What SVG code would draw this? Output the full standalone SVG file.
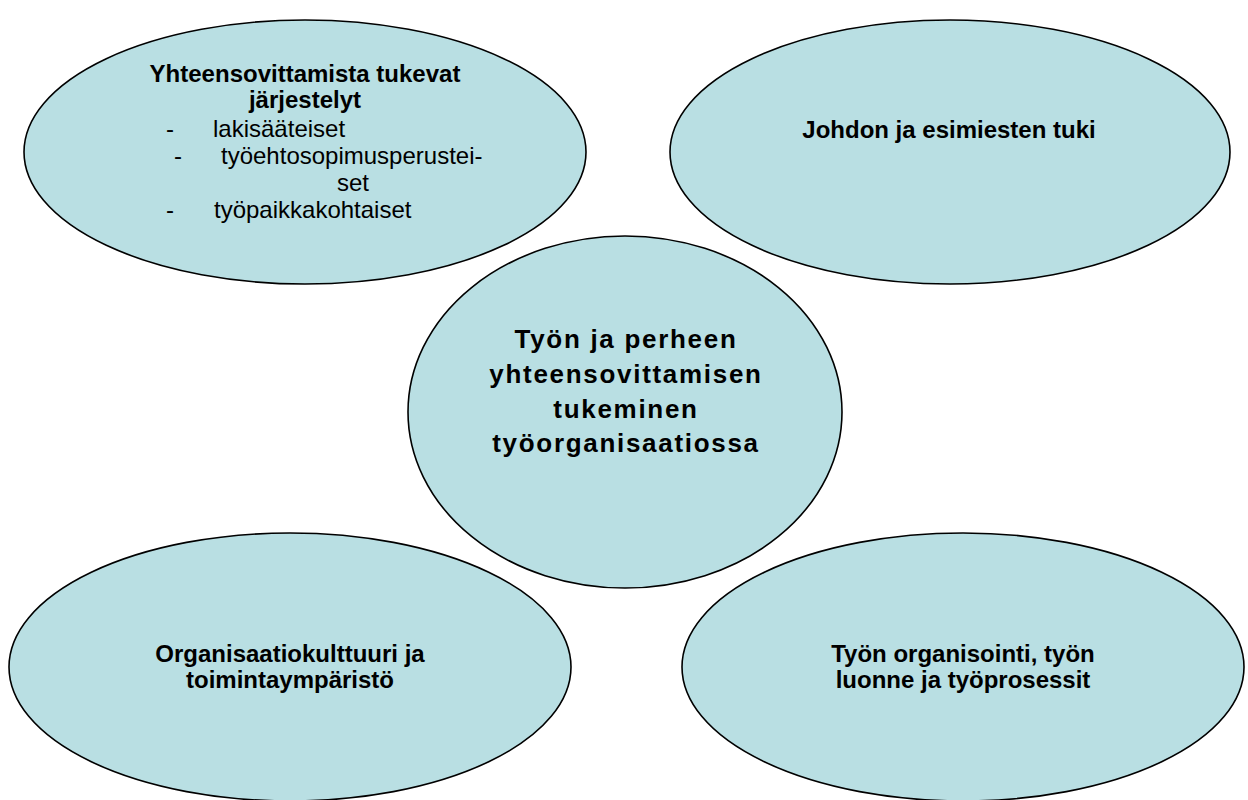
<svg xmlns="http://www.w3.org/2000/svg" width="1248" height="800" viewBox="0 0 1248 800">
<style>
.node{fill:#b9dfe3;stroke:#000;stroke-width:1.6}
.t{font-family:"Liberation Sans",Arial,sans-serif;font-size:24px;fill:#000}
.b{font-weight:bold}
.c{text-anchor:middle}
.ctr{font-family:"Liberation Sans",Arial,sans-serif;font-size:26px;font-weight:bold;letter-spacing:1.7px;text-anchor:middle;fill:#000}
</style>
<rect width="1248" height="800" fill="#fff"/>
<g id="connectors"></g>
<g id="node-jarjestelyt">
<ellipse class="node" cx="305" cy="152" rx="281" ry="132"/>
<text class="t b c" x="305" y="82">Yhteensovittamista tukevat</text>
<text class="t b c" x="305" y="108">järjestelyt</text>
<text class="t" x="166" y="137">-</text>
<text class="t" x="213" y="137">lakisääteiset</text>
<text class="t" x="174" y="164">-</text>
<text class="t" x="221" y="164">työehtosopimusperustei-</text>
<text class="t" x="337" y="191">set</text>
<text class="t" x="166" y="218">-</text>
<text class="t" x="214" y="218">työpaikkakohtaiset</text>
</g>
<g id="node-johto">
<ellipse class="node" cx="950" cy="152" rx="280" ry="132"/>
<text class="t b c" x="949" y="138">Johdon ja esimiesten tuki</text>
</g>
<g id="node-center">
<ellipse class="node" cx="625" cy="412" rx="217" ry="176"/>
<text class="ctr" x="626" y="348">Työn ja perheen</text>
<text class="ctr" x="626" y="383">yhteensovittamisen</text>
<text class="ctr" x="626" y="418">tukeminen</text>
<text class="ctr" x="626" y="452">työorganisaatiossa</text>
</g>
<g id="node-kulttuuri">
<ellipse class="node" cx="290" cy="667" rx="281" ry="134"/>
<text class="t b c" x="290" y="662">Organisaatiokulttuuri ja</text>
<text class="t b c" x="290" y="688">toimintaympäristö</text>
</g>
<g id="node-organisointi">
<ellipse class="node" cx="963" cy="667" rx="281" ry="134"/>
<text class="t b c" x="963" y="662">Työn organisointi, työn</text>
<text class="t b c" x="963" y="688">luonne ja työprosessit</text>
</g>
</svg>
